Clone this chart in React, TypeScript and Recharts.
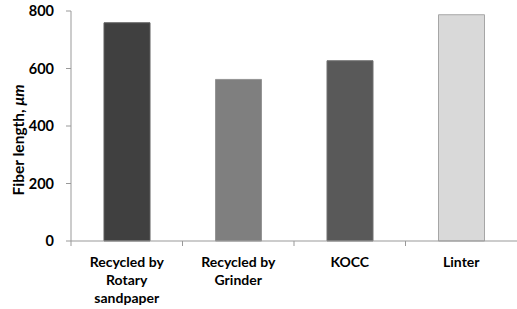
import { Bar, BarChart, Cell, XAxis, YAxis } from "recharts";

const categories = ["Recycled by Rotary sandpaper", "Recycled by Grinder", "KOCC", "Linter"];
const categoryLines = [["Recycled by", "Rotary", "sandpaper"], ["Recycled by", "Grinder"], ["KOCC"], ["Linter"]];
const fiberLength = [759, 562, 627, 787];
const yTicks = [0, 200, 400, 600, 800];

const fills = ["#404040", "#7f7f7f", "#595959", "#d9d9d9"];
const strokes = ["#5c5c5c", "#959595", "#707070", "#a6a6a6"];

const data = categories.map((name, i) => ({ name, value: fiberLength[i], lines: categoryLines[i] }));

const FONT = "Lato, 'Open Sans', sans-serif";
const AXIS = "#999999";
const BAND = 446 / categories.length;

function CategoryTick(props: any) {
  const { x, y, payload } = props;
  const lines = categoryLines[payload.index] ?? [payload.value];
  const left = x - BAND / 2;
  return (
    <g>
      <line x1={left} y1={y} x2={left} y2={y + 5} stroke={AXIS} />
      <text x={x} y={y + 26} textAnchor="middle" fontFamily={FONT} fontWeight="bold" fontSize={14} fill="#000">
        {lines.map((l: string, i: number) => (
          <tspan key={i} x={x} dy={i === 0 ? 0 : 18}>
            {l}
          </tspan>
        ))}
      </text>
    </g>
  );
}

function YLabel() {
  return (
    <text
      x={18}
      y={140}
      transform="rotate(-90, 18, 140)"
      textAnchor="middle"
      dominantBaseline="central"
      fontFamily={FONT}
      fontWeight="bold"
      fontSize={15.5}
      fill="#000"
    >
      Fiber length, <tspan fontStyle="italic">μm</tspan>
    </text>
  );
}

export default function App() {
  return (
    <div style={{ position: "absolute", left: 0, top: 0, background: "#fff" }}>
      <BarChart width={517} height={309} data={data} margin={{ top: 11, right: 0, bottom: 0, left: 0 }}>
        <XAxis
          dataKey="name"
          height={68}
          stroke={AXIS}
          tickLine={false}
          tickSize={0}
          tickMargin={0}
          interval={0}
          tick={<CategoryTick />}
        />
        <YAxis
          type="number"
          domain={[0, 800]}
          ticks={yTicks}
          width={71}
          stroke={AXIS}
          tickSize={5}
          tickMargin={12}
          tick={{ fill: "#000", fontFamily: FONT, fontWeight: "bold", fontSize: 14.5 }}
          label={<YLabel />}
        />
        <Bar dataKey="value" barSize={46} isAnimationActive={false}>
          {data.map((d, i) => (
            <Cell key={d.name} fill={fills[i]} stroke={strokes[i]} strokeWidth={1} />
          ))}
        </Bar>
      </BarChart>
    </div>
  );
}
